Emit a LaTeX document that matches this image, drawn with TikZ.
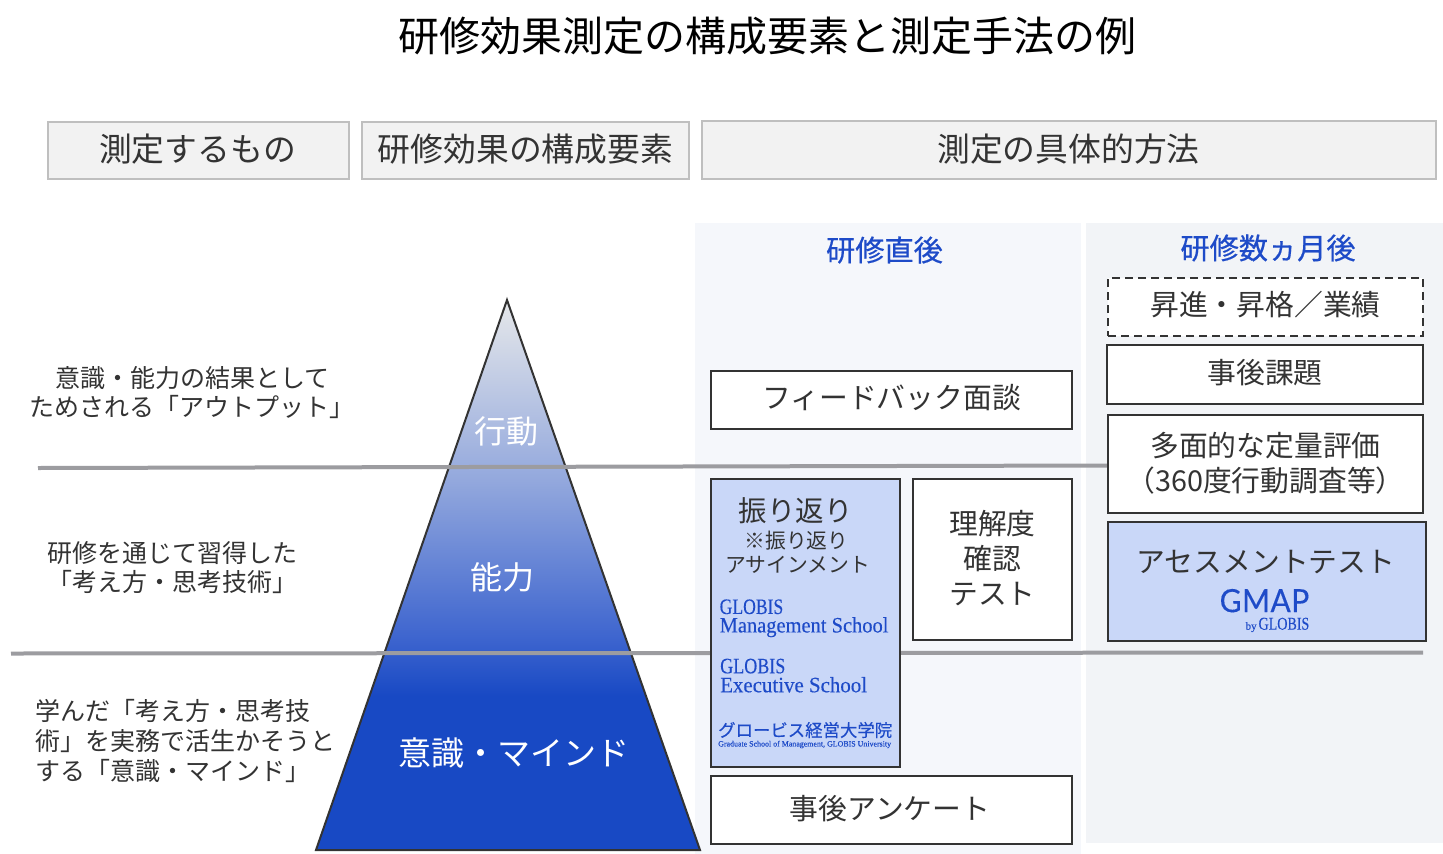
\documentclass[tikz,border=0pt]{standalone}
\usepackage{fontspec}
\setmainfont{Noto Sans CJK JP}
\newfontfamily\phasefont[FakeBold=0.5]{Noto Sans CJK JP}
\newfontfamily\logoserif[FakeBold=0.25]{Liberation Serif}
\newfontfamily\logojp[FakeBold=0.3]{Noto Sans CJK JP}
\newfontfamily\logosans[FakeBold=0.3,LetterSpace=1.5]{Lato}
\newcommand{\fsz}[1]{\fontsize{#1}{#1}\selectfont}
\definecolor{ink}{HTML}{333333}
\definecolor{bluetxt}{HTML}{1E4BC8}
\definecolor{lightblue}{HTML}{C9D7F8}
\definecolor{rulegrey}{HTML}{9C9CA0}
\definecolor{pyrA}{HTML}{E6E8EA}
\definecolor{pyrB}{HTML}{93A8DD}
\definecolor{pyrC}{HTML}{3F66CF}
\definecolor{pyrD}{HTML}{1849C4}
\definecolor{panelA}{HTML}{F5F7FB}
\definecolor{panelB}{HTML}{F2F4F7}
\pgfdeclareverticalshading{pyramid}{100bp}{
 color(0bp)=(pyrD); color(25bp)=(pyrD); color(39bp)=(pyrD);
 color(44.5bp)=(pyrC); color(58.6bp)=(pyrB); color(75bp)=(pyrA); color(100bp)=(pyrA)}
\tikzset{
 headbox/.style={draw=black!25,line width=2pt,fill=black!5,inner sep=0pt},
 headtext/.style={inner sep=0pt,text=ink,font=\fsz{32.8}},
 whitebox/.style={draw=ink,line width=2pt,fill=white,inner sep=0pt},
 bluebox/.style={draw=ink,line width=2pt,fill=lightblue,inner sep=0pt},
 boxtext/.style={inner sep=0pt,text=ink,align=center,font=\fontsize{28.8}{35}\selectfont},
 lefttext/.style={inner sep=0pt,anchor=west,text=ink,align=left,font=\fontsize{25}{29.8}\selectfont},
 pyrlabel/.style={inner sep=0pt,text=white,font=\fsz{32}},
 phase/.style={inner sep=0pt,text=bluetxt,font=\phasefont\fsz{29.2}},
 bodytext/.style={inner sep=0pt,text=ink},
 logotext/.style={inner sep=0pt,anchor=west,text=bluetxt,align=left},
 levelrule/.style={rulegrey,line width=4pt}
}
\begin{document}
\begin{tikzpicture}[x=1pt,y=-1pt]
\useasboundingbox (0,0) rectangle (1443,854);
\fill[white] (0,0) rectangle (1443,854);
% panels
\fill[panelA] (695,223) rectangle (1081,854);
\fill[panelB] (1086,223) rectangle (1443,843);
% title
\node[inner sep=0pt,text=black,font=\fsz{41}] (title) at (767,36) {研修効果測定の構成要素と測定手法の例};
% headers
\node[headbox,minimum width=301pt,minimum height=57pt] (h1) at (198.5,150.5) {};
\node[headbox,minimum width=327pt,minimum height=57pt] (h2) at (525.5,150.5) {};
\node[headbox,minimum width=734pt,minimum height=58pt] (h3) at (1069,150) {};
\node[headtext] (h1t) at (197.5,149.5) {測定するもの};
\node[headtext] (h2t) at (525.5,149.5) {研修効果の構成要素};
\node[headtext] (h3t) at (1068.5,149) {測定の具体的方法};
% phases
\node[phase] (p1) at (884.5,250) {研修直後};
\node[phase] (p2) at (1268,248) {研修数ヵ月後};
% pyramid
\path[shading=pyramid,draw=ink,line width=2pt,line join=miter] (507,300) -- (700,850) -- (316,850) -- cycle;
\coordinate (a1) at (38,468); \coordinate (a2) at (1108,465.5);
\coordinate (b1) at (11,653.5); \coordinate (b2) at (1423,652.5);
\draw[levelrule] (a1) -- (a2);
\draw[levelrule] (b1) -- (b2);
\node[pyrlabel] (l1) at (506,431) {行動};
\node[pyrlabel] (l2) at (502,577) {能力};
\node[pyrlabel,font=\fsz{33}] (l3) at (514,753) {意識・マインド};
% left text
\node[lefttext,align=center] (t1) at (29,392.5) {\hspace*{1pt}意識・能力の結果として\\ ためされる「アウトプット」};
\node[lefttext,align=center] (t2) at (47,567.5) {研修を通じて習得した\\ 「考え方・思考技術」};
\node[lefttext] (t3) at (35.5,741) {学んだ「考え方・思考技\\ 術」を実務で活生かそうと\\ する「意識・マインド」};
% boxes
\node[whitebox,minimum width=361pt,minimum height=58pt] (b-fb) at (891.5,400) {};
\node[bluebox,minimum width=189pt,minimum height=288pt] (b-rv) at (805.5,623) {};
\node[whitebox,minimum width=159pt,minimum height=161pt] (b-rk) at (992.5,559.5) {};
\node[whitebox,minimum width=361pt,minimum height=68pt] (b-an) at (891.5,810) {};
\node[whitebox,dashed,dash pattern=on 8pt off 5pt,minimum width=315pt,minimum height=58pt] (b-up) at (1265.5,307) {};
\node[whitebox,minimum width=316pt,minimum height=59pt] (b-ka) at (1265,374.5) {};
\node[whitebox,minimum width=315pt,minimum height=98pt] (b-ta) at (1265.5,464) {};
\node[bluebox,minimum width=318pt,minimum height=119pt] (b-as) at (1267,581.5) {};
% box texts
\node[boxtext] (b-fbt) at (891.5,398) {フィードバック面談};
\node[boxtext] (b-rkt) at (992.5,558) {理解度\\確認\\テスト};
\node[boxtext] (b-ant) at (890,809) {事後アンケート};
\node[boxtext] (b-upt) at (1265.5,305) {昇進・昇格／業績};
\node[boxtext] (b-kat) at (1265,373) {事後課題};
\node[boxtext] (b-tat) at (1265.5,463) {多面的な定量評価\\（360度行動調査等）};
% contents of the blue boxes
\node[bodytext,font=\fsz{28.5}] (rv1) at (795.5,510.5) {振り返り};
\node[bodytext,font=\fsz{20.8}] (rv2) at (796.5,541) {※振り返り};
\node[bodytext,font=\fsz{20.8}] (rv3) at (797.5,565) {アサインメント};
\node[logotext,font=\logoserif\fontsize{22}{18.5}\selectfont] (lg1) at (719.5,618.3) {\scalebox{.8}[1]{GLOBIS}\\ \scalebox{.93}[1]{Management School}};
\node[logotext,font=\logoserif\fontsize{22}{19}\selectfont] (lg3) at (720,675.6) {\scalebox{.82}[1]{GLOBIS}\\ \scalebox{.95}[1]{Executive School}};
\node[logotext,font=\logojp\fsz{17.4}] (lg5) at (718,730) {グロービス経営大学院};
\node[logotext,font=\logoserif\fsz{8}] (lg6) at (718,744.5) {\scalebox{.99}[1]{Graduate School of Management, GLOBIS University}};
\node[bodytext,font=\fsz{28.8}] (as1) at (1266,562) {アセスメントテスト};
\node[inner sep=0pt,anchor=east,align=right,text=bluetxt,font=\logoserif\fontsize{18}{17.5}\selectfont] (as2) at (1309.5,610.5) {\scalebox{.94}[1]{\logosans\fontsize{32}{17.5}\selectfont GMAP}\\ {\fontsize{11}{17.5}\selectfont by}\hspace{2pt}\scalebox{.78}[1]{GLOBIS}};
\end{tikzpicture}
\end{document}
